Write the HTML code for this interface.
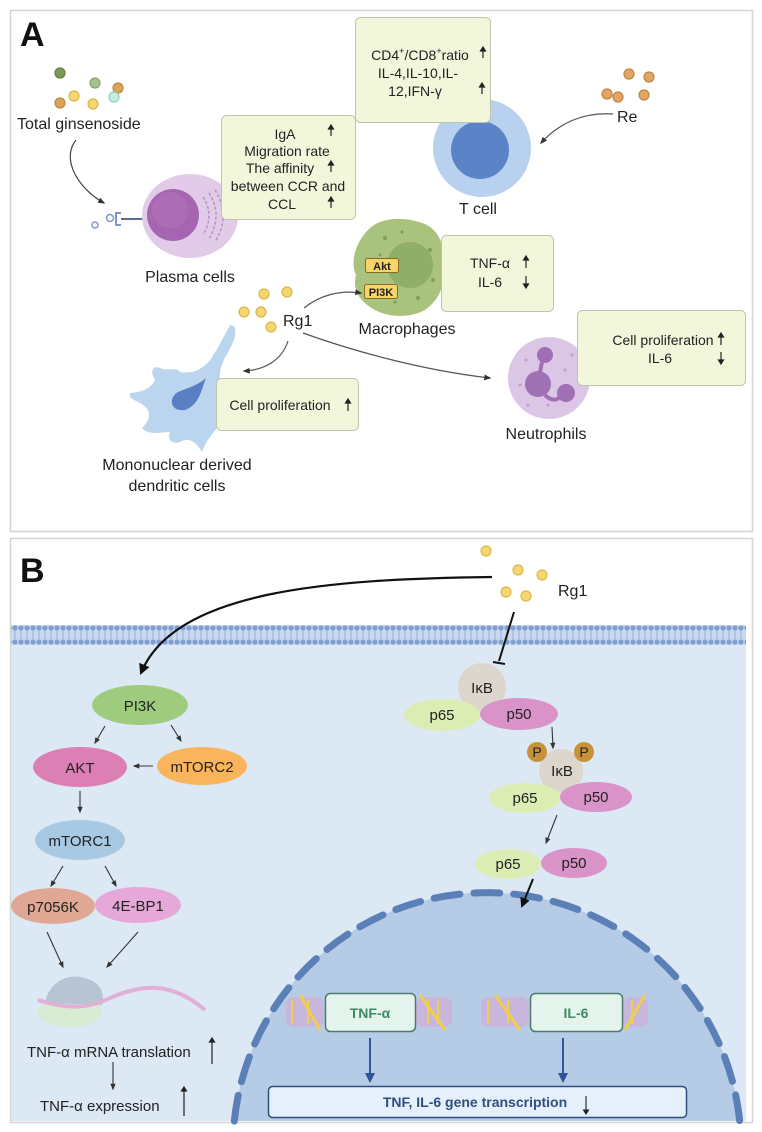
<!DOCTYPE html>
<html><head><meta charset="utf-8"><style>
html,body{margin:0;padding:0;background:#fff;width:762px;height:1132px;overflow:hidden;}
svg{display:block;overflow:hidden;font-family:"Liberation Sans",Arial,sans-serif;}
</style></head><body>
<svg width="762" height="1132" viewBox="0 0 762 1132" xmlns="http://www.w3.org/2000/svg">
<defs>
<marker id="ah" viewBox="0 0 10 10" refX="8" refY="5" markerWidth="6" markerHeight="6" orient="auto"><path d="M0,1 L10,5 L0,9 z" fill="#333"/></marker>
<marker id="ahb" viewBox="0 0 10 10" refX="8" refY="5" markerWidth="5" markerHeight="5" orient="auto"><path d="M0,0 L10,5 L0,10 z" fill="#111"/></marker>
<marker id="ahd" viewBox="0 0 10 10" refX="8" refY="5" markerWidth="5" markerHeight="5" orient="auto"><path d="M0,0 L10,5 L0,10 z" fill="#2f5597"/></marker>
<pattern id="mem" x="0" y="625" width="6" height="20" patternUnits="userSpaceOnUse">
<rect width="6" height="20" fill="#c9d8ee"/>
<circle cx="3" cy="3" r="2.6" fill="#7f9fd0"/>
<circle cx="3" cy="17" r="2.6" fill="#7f9fd0"/>
<rect x="2.4" y="5" width="1.2" height="10" fill="#9fb6dc"/>
</pattern>
</defs>

<!-- Panel A -->
<rect x="10.5" y="10.5" width="742" height="521" fill="#fff" stroke="#d4d4d4" stroke-width="1.5"/>
<text x="20" y="46" font-size="34" font-weight="bold" fill="#111">A</text>

<g stroke-width="1.2">
<circle cx="60" cy="73" r="5" fill="#7a9a55" stroke="#5f7f40"/>
<circle cx="95" cy="83" r="5" fill="#a6c08a" stroke="#88a56c"/>
<circle cx="118" cy="88" r="5" fill="#d9a35a" stroke="#c0883f"/>
<circle cx="74" cy="96" r="5" fill="#f5d670" stroke="#d9b64c"/>
<circle cx="114" cy="97" r="5" fill="#c6ece2" stroke="#8fcfbf"/>
<circle cx="60" cy="103" r="5" fill="#d9a35a" stroke="#c0883f"/>
<circle cx="93" cy="104" r="5" fill="#f5d670" stroke="#d9b64c"/>
</g>
<text x="17" y="129" font-size="16" fill="#222">Total ginsenoside</text>
<path d="M76,140 C60,160 80,190 104,203" fill="none" stroke="#444" stroke-width="1.2" marker-end="url(#ah)"/>

<circle cx="95" cy="225" r="3" fill="none" stroke="#7f96c8" stroke-width="1.5"/>
<circle cx="110" cy="218" r="3.5" fill="none" stroke="#7f96c8" stroke-width="1.5"/>
<path d="M121,213 h-5 v12 h5" fill="none" stroke="#7f96c8" stroke-width="2"/>
<line x1="121" y1="219" x2="145" y2="219" stroke="#5a6a9a" stroke-width="2"/>
<ellipse cx="190" cy="216" rx="48" ry="42" fill="#e2cbe9"/>
<circle cx="173" cy="215" r="26" fill="#a565b0"/>
<circle cx="170" cy="210" r="18" fill="#b072bb" opacity="0.6"/>
<g fill="none" stroke="#b790c0" stroke-width="1.5" stroke-dasharray="3,2">
<path d="M203,197 q12,18 0,38"/><path d="M209,193 q14,22 0,46"/><path d="M215,190 q16,26 0,52"/>
</g>
<text x="190" y="282" font-size="16" fill="#222" text-anchor="middle">Plasma cells</text>

<rect x="221.5" y="115.5" width="134" height="104" rx="5" fill="#f2f7dc" stroke="#bfc4b0"/>
<g font-size="14" fill="#222" text-anchor="middle">
<text x="285" y="139">IgA</text>
<text x="287" y="156">Migration rate</text>
<text x="280" y="173">The affinity</text>
<text x="288" y="191">between CCR and</text>
<text x="282" y="209">CCL</text>
</g>
<g stroke="#222" stroke-width="1.2">
<line x1="331" y1="136" x2="331" y2="127"/><path d="M328.5,129 l2.5,-4 l2.5,4z" fill="#222"/>
<line x1="331" y1="172" x2="331" y2="163"/><path d="M328.5,165 l2.5,-4 l2.5,4z" fill="#222"/>
<line x1="331" y1="208" x2="331" y2="199"/><path d="M328.5,201 l2.5,-4 l2.5,4z" fill="#222"/>
</g>

<circle cx="482" cy="148" r="49" fill="#b7d1ef"/>
<circle cx="480" cy="150" r="29" fill="#5b83c7"/>
<text x="478" y="214" font-size="16" fill="#222" text-anchor="middle">T cell</text>

<rect x="355.5" y="17.5" width="135" height="105" rx="5" fill="#f2f7dc" stroke="#bfc4b0"/>
<g font-size="14" fill="#222" text-anchor="middle">
<text x="420" y="60">CD4<tspan font-size="9" dy="-6">+</tspan><tspan dy="6">/CD8</tspan><tspan font-size="9" dy="-6">+</tspan><tspan dy="6">ratio</tspan></text>
<text x="418" y="78">IL-4,IL-10,IL-</text>
<text x="415" y="96">12,IFN-γ</text>
</g>
<g stroke="#222" stroke-width="1.2">
<line x1="483" y1="58" x2="483" y2="49"/><path d="M480.5,51 l2.5,-4 l2.5,4z" fill="#222"/>
<line x1="482" y1="94" x2="482" y2="85"/><path d="M479.5,87 l2.5,-4 l2.5,4z" fill="#222"/>
</g>

<g fill="#e2a566" stroke="#c08440" stroke-width="1.2">
<circle cx="629" cy="74" r="5"/><circle cx="649" cy="77" r="5"/><circle cx="607" cy="94" r="5"/><circle cx="618" cy="97" r="5"/><circle cx="644" cy="95" r="5"/>
</g>
<text x="617" y="122" font-size="16" fill="#222">Re</text>
<path d="M613,114 C585,112 560,122 541,143" fill="none" stroke="#555" stroke-width="1.2" marker-end="url(#ah)"/>

<path d="M370,228 C385,215 410,218 425,224 C438,230 446,245 442,262 C448,280 440,300 425,310 C410,318 390,318 375,310 C360,302 352,290 356,275 C350,262 355,242 370,228 Z" fill="#a9c27e"/>
<circle cx="410" cy="265" r="23" fill="#8fae68"/>
<g fill="#7f9f58"><circle cx="385" cy="238" r="2"/><circle cx="402" cy="232" r="1.5"/><circle cx="430" cy="250" r="2"/><circle cx="433" cy="280" r="2"/><circle cx="418" cy="298" r="2"/><circle cx="395" cy="302" r="1.5"/><circle cx="380" cy="255" r="1.5"/></g>
<rect x="365.5" y="258.5" width="33" height="14" rx="2" fill="#f5d46a" stroke="#8a6a20"/>
<text x="382" y="270" font-size="11" font-weight="bold" text-anchor="middle" fill="#222">Akt</text>
<rect x="364.5" y="284.5" width="33" height="14" rx="2" fill="#f5d46a" stroke="#8a6a20"/>
<text x="381" y="296" font-size="11" font-weight="bold" text-anchor="middle" fill="#222">PI3K</text>
<text x="407" y="334" font-size="16" fill="#222" text-anchor="middle">Macrophages</text>

<rect x="441.5" y="235.5" width="112" height="76" rx="5" fill="#f2f7dc" stroke="#bfc4b0"/>
<g font-size="14" fill="#222" text-anchor="middle">
<text x="490" y="268">TNF-α</text>
<text x="490" y="287">IL-6</text>
</g>
<g stroke="#222" stroke-width="1.2">
<line x1="526" y1="268" x2="526" y2="258"/><path d="M523.5,260 l2.5,-4 l2.5,4z" fill="#222"/>
<line x1="526" y1="276" x2="526" y2="286"/><path d="M523.5,284 l2.5,4 l2.5,-4z" fill="#222"/>
</g>

<g fill="#f5d670" stroke="#dcb84c" stroke-width="1.2">
<circle cx="264" cy="294" r="5"/><circle cx="287" cy="292" r="5"/><circle cx="244" cy="312" r="5"/><circle cx="261" cy="312" r="5"/><circle cx="271" cy="327" r="5"/>
</g>
<text x="283" y="326" font-size="16" fill="#222">Rg1</text>
<path d="M304,308 C320,295 340,290 361,293" fill="none" stroke="#555" stroke-width="1.2" marker-end="url(#ah)"/>
<path d="M288,341 C282,360 265,370 244,371" fill="none" stroke="#555" stroke-width="1.2" marker-end="url(#ah)"/>
<path d="M303,333 C350,350 420,370 490,378" fill="none" stroke="#555" stroke-width="1.2" marker-end="url(#ah)"/>

<path d="M234,326 C238,335 232,345 226,356 C220,366 218,376 222,388 C230,396 232,408 225,418 C218,428 208,436 202,452 C196,442 190,438 182,441 C174,446 166,440 170,432 C160,432 150,436 142,428 C150,420 152,412 144,406 C138,400 128,400 130,393 C140,392 150,390 155,380 C150,372 152,365 160,368 C168,372 175,366 180,372 C192,374 202,370 210,360 C217,350 223,338 230,325 Z" fill="#bcd5ef"/>
<path d="M206,378 C200,395 198,405 185,410 C170,412 168,398 178,392 C188,388 198,385 206,378 Z" fill="#5b7fc4"/>
<text x="177" y="470" font-size="16" fill="#222" text-anchor="middle">Mononuclear derived</text>
<text x="177" y="491" font-size="16" fill="#222" text-anchor="middle">dendritic cells</text>

<rect x="216.5" y="378.5" width="142" height="52" rx="5" fill="#f2f7dc" stroke="#bfc4b0"/>
<text x="280" y="410" font-size="14" fill="#222" text-anchor="middle">Cell proliferation</text>
<g stroke="#222" stroke-width="1.2"><line x1="348" y1="411" x2="348" y2="401"/><path d="M345.5,403 l2.5,-4 l2.5,4z" fill="#222"/></g>

<circle cx="549" cy="378" r="41" fill="#dcc6e6"/>
<circle cx="545" cy="355" r="8" fill="#a070b5"/>
<circle cx="538" cy="384" r="13" fill="#a070b5"/>
<circle cx="566" cy="393" r="9" fill="#a070b5"/>
<path d="M542,362 L540,372 M545,395 C552,402 558,400 560,396" stroke="#a070b5" stroke-width="4" fill="none"/>
<g fill="#b9a0c8"><circle cx="526" cy="360" r="1.5"/><circle cx="520" cy="385" r="1.5"/><circle cx="528" cy="405" r="1.5"/><circle cx="548" cy="405" r="1.5"/><circle cx="565" cy="370" r="1.5"/><circle cx="572" cy="355" r="1.5"/></g>
<text x="546" y="439" font-size="16" fill="#222" text-anchor="middle">Neutrophils</text>

<rect x="577.5" y="310.5" width="168" height="75" rx="5" fill="#f2f7dc" stroke="#bfc4b0"/>
<g font-size="14" fill="#222" text-anchor="middle">
<text x="663" y="345">Cell proliferation</text>
<text x="660" y="363">IL-6</text>
</g>
<g stroke="#222" stroke-width="1.2">
<line x1="721" y1="345" x2="721" y2="335"/><path d="M718.5,337 l2.5,-4 l2.5,4z" fill="#222"/>
<line x1="721" y1="352" x2="721" y2="362"/><path d="M718.5,360 l2.5,4 l2.5,-4z" fill="#222"/>
</g>

<!-- Panel B -->
<rect x="10.5" y="538.5" width="742" height="584" fill="#fff" stroke="#d4d4d4" stroke-width="1.5"/>
<rect x="11" y="645" width="735" height="476" fill="#dce8f4"/>
<rect x="11" y="625" width="735" height="20" fill="url(#mem)"/>
<text x="20" y="582" font-size="34" font-weight="bold" fill="#111">B</text>

<g fill="#f5d670" stroke="#dcb84c" stroke-width="1.2">
<circle cx="486" cy="551" r="5"/><circle cx="518" cy="570" r="5"/><circle cx="542" cy="575" r="5"/><circle cx="506" cy="592" r="5"/><circle cx="526" cy="596" r="5"/>
</g>
<text x="558" y="596" font-size="16" fill="#222">Rg1</text>
<path d="M492,577 C330,579 175,590 141,673" fill="none" stroke="#111" stroke-width="2.2" marker-end="url(#ahb)"/>
<line x1="514" y1="612" x2="499" y2="661" stroke="#111" stroke-width="2"/>
<line x1="493" y1="662" x2="505" y2="664" stroke="#111" stroke-width="2"/>

<circle cx="482" cy="687" r="24" fill="#dcd6cc"/>
<ellipse cx="442" cy="715" rx="38" ry="16" fill="#dcedb4"/>
<ellipse cx="519" cy="714" rx="39" ry="16" fill="#d993c8"/>
<g font-size="15" fill="#222" text-anchor="middle">
<text x="482" y="693">IκB</text><text x="442" y="720">p65</text><text x="519" y="719">p50</text>
</g>
<line x1="552" y1="727" x2="553" y2="748" stroke="#333" stroke-width="1.1" marker-end="url(#ah)"/>
<circle cx="561" cy="771" r="22" fill="#dcd6cc"/>
<circle cx="537" cy="752" r="10" fill="#c8923a"/><circle cx="584" cy="752" r="10" fill="#c8923a"/>
<ellipse cx="525" cy="798" rx="36" ry="15" fill="#dcedb4"/>
<ellipse cx="596" cy="797" rx="36" ry="15" fill="#d993c8"/>
<g font-size="15" fill="#222" text-anchor="middle">
<text x="537" y="757" font-size="14">P</text><text x="584" y="757" font-size="14">P</text>
<text x="562" y="776">IκB</text><text x="525" y="803">p65</text><text x="596" y="802">p50</text>
</g>
<line x1="557" y1="815" x2="546" y2="843" stroke="#333" stroke-width="1.1" marker-end="url(#ah)"/>
<ellipse cx="508" cy="864" rx="33" ry="15" fill="#dcedb4"/>
<ellipse cx="574" cy="863" rx="33" ry="15" fill="#d993c8"/>
<g font-size="15" fill="#222" text-anchor="middle"><text x="508" y="869">p65</text><text x="574" y="868">p50</text></g>

<!-- nucleus arc -->
<path d="M234.3,1121 A254,254 0 0 1 739.7,1121 Z" fill="#b5cbe6"/>
<path d="M234.3,1121 A254,254 0 0 1 739.7,1121" fill="none" stroke="#5b80b8" stroke-width="7" stroke-dasharray="26,14" stroke-linecap="round"/>
<line x1="533" y1="879" x2="522" y2="906" stroke="#111" stroke-width="2" marker-end="url(#ahb)"/>

<g>
<g fill="#c8b6dc"><rect x="286" y="997" width="38" height="30" rx="8"/><rect x="416" y="997" width="36" height="30" rx="8"/><rect x="481" y="997" width="48" height="30" rx="8"/><rect x="623" y="997" width="25" height="30" rx="8"/></g>
<g stroke="#f1cf4c" stroke-width="3">
<path d="M300,995 L320,1030 M420,995 L445,1030 M495,995 L520,1030 M625,1030 L645,995"/>
<path d="M292,1000 v24 M308,1000 v24 M428,1000 v24 M438,1000 v24 M488,1000 v24 M508,1000 v24 M632,1000 v24" stroke-width="2"/>
</g>
</g>
<rect x="325.5" y="993.5" width="90" height="38" rx="5" fill="#e4f3ec" stroke="#4d7a6a" stroke-width="1.5"/>
<text x="370" y="1018" font-size="14" font-weight="bold" fill="#3f8a62" text-anchor="middle">TNF-α</text>
<rect x="530.5" y="993.5" width="92" height="38" rx="5" fill="#e4f3ec" stroke="#4d7a6a" stroke-width="1.5"/>
<text x="576" y="1018" font-size="14" font-weight="bold" fill="#3f8a62" text-anchor="middle">IL-6</text>
<line x1="370" y1="1038" x2="370" y2="1081" stroke="#2f5597" stroke-width="2" marker-end="url(#ahd)"/>
<line x1="563" y1="1038" x2="563" y2="1081" stroke="#2f5597" stroke-width="2" marker-end="url(#ahd)"/>
<rect x="268.5" y="1086.5" width="418" height="31" rx="4" fill="#e6f0fa" stroke="#2f4f80" stroke-width="1.5"/>
<text x="475" y="1107" font-size="14" font-weight="bold" fill="#2f4f7f" text-anchor="middle">TNF, IL-6 gene transcription</text>
<g stroke="#222" stroke-width="1.1"><line x1="586" y1="1096" x2="586" y2="1112"/><path d="M583.5,1110 l2.5,4 l2.5,-4z" fill="#222"/></g>

<ellipse cx="140" cy="705" rx="48" ry="20" fill="#9fcb7e"/>
<ellipse cx="80" cy="767" rx="47" ry="20" fill="#db7fb4"/>
<ellipse cx="202" cy="766" rx="45" ry="19" fill="#f9b45c"/>
<ellipse cx="80" cy="840" rx="45" ry="20" fill="#a8c9e3"/>
<ellipse cx="53" cy="906" rx="42" ry="18" fill="#e0a894"/>
<ellipse cx="138" cy="905" rx="43" ry="18" fill="#e6a8d8"/>
<g font-size="15" fill="#222" text-anchor="middle">
<text x="140" y="711">PI3K</text>
<text x="80" y="773">AKT</text>
<text x="202" y="772">mTORC2</text>
<text x="80" y="846">mTORC1</text>
<text x="53" y="912">p7056K</text>
<text x="138" y="911">4E-BP1</text>
</g>
<g stroke="#333" stroke-width="1.1" fill="none" marker-end="url(#ah)">
<line x1="105" y1="726" x2="95" y2="743"/>
<line x1="171" y1="725" x2="181" y2="741"/>
<line x1="153" y1="766" x2="134" y2="766"/>
<line x1="80" y1="791" x2="80" y2="812"/>
<line x1="63" y1="866" x2="51" y2="886"/>
<line x1="105" y1="866" x2="116" y2="886"/>
<line x1="47" y1="932" x2="63" y2="967"/>
<line x1="138" y1="932" x2="107" y2="967"/>
<line x1="113" y1="1062" x2="113" y2="1089"/>
</g>
<ellipse cx="70" cy="1012" rx="32" ry="15" fill="#d7ecd0" opacity="0.9"/>
<path d="M45,1003 C48,985 65,972 85,978 C100,982 105,992 102,1005 Z" fill="#b6c4d4"/>
<path d="M38,1000 C70,1010 90,1008 110,998 C140,985 170,980 205,1010" fill="none" stroke="#e2b0d6" stroke-width="4"/>
<text x="27" y="1057" font-size="15" fill="#222">TNF-α mRNA translation</text>
<g stroke="#222" stroke-width="1.2"><line x1="212" y1="1064" x2="212" y2="1040"/><path d="M209.5,1042 l2.5,-4 l2.5,4z" fill="#222"/></g>
<text x="40" y="1111" font-size="15" fill="#222">TNF-α expression</text>
<g stroke="#222" stroke-width="1.2"><line x1="184" y1="1116" x2="184" y2="1089"/><path d="M181.5,1091 l2.5,-4 l2.5,4z" fill="#222"/></g>
</svg>
</body></html>
